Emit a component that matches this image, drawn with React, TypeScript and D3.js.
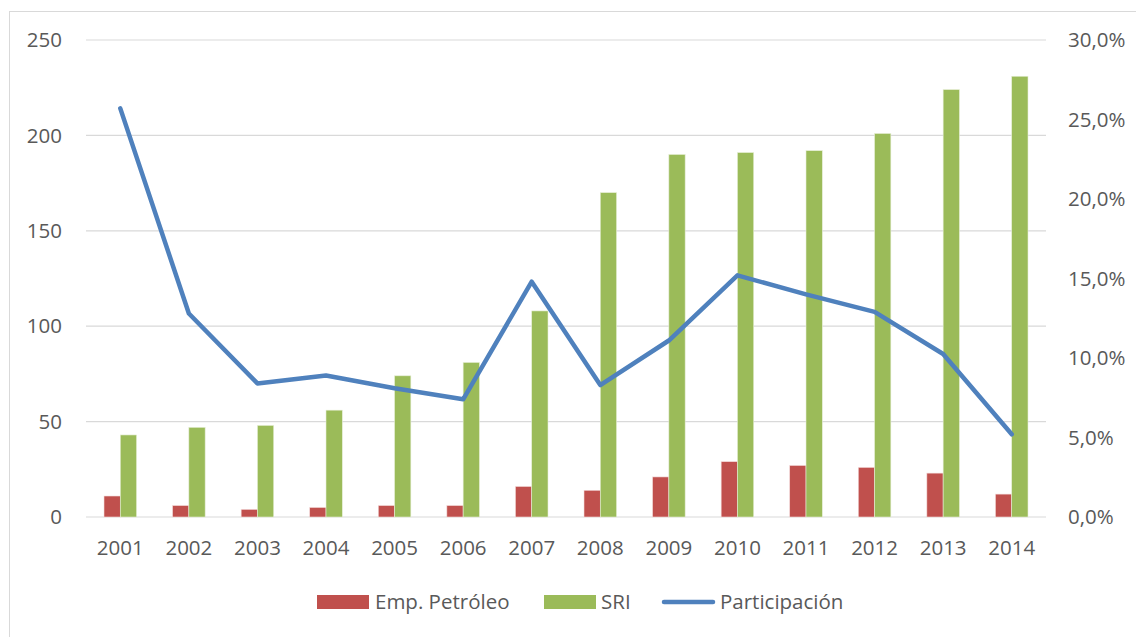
import React from "react";
import * as d3 from "d3";

const years = ["2001","2002","2003","2004","2005","2006","2007","2008","2009","2010","2011","2012","2013","2014"];
const empPetroleo = [11, 6, 4, 5, 6, 6, 16, 14, 21, 29, 27, 26, 23, 12];
const sri = [43, 47, 48, 56, 74, 81, 108, 170, 190, 191, 192, 201, 224, 231];
const participacion = [0.257, 0.128, 0.084, 0.089, 0.081, 0.074, 0.148, 0.083, 0.111, 0.152, 0.14, 0.129, 0.1025, 0.052];
const leftTicks = [0, 50, 100, 150, 200, 250];
const rightTicks = [0, 0.05, 0.1, 0.15, 0.2, 0.25, 0.3];

const W = 1136, H = 637;
const plot = { left: 86, right: 1046, top: 40, bottom: 517 };
const FONT = "'Open Sans', 'Noto Sans', sans-serif";
const TXT = "#595959";
const RED = "#C0504D", GREEN = "#9BBB59", BLUE = "#4F81BD";

export default function App() {
  const x = d3.scaleBand().domain(years).range([plot.left, plot.right]).paddingInner(0).paddingOuter(0);
  const yL = d3.scaleLinear().domain([0, 250]).range([plot.bottom, plot.top]);
  const yR = d3.scaleLinear().domain([0, 0.3]).range([plot.bottom, plot.top]);
  const bw = x.bandwidth() * 0.2375;
  const fmtPct = (v: number) => (v * 100).toFixed(1).replace(".", ",") + "%";
  const line = d3.line<number>()
    .x((_, i) => (x(years[i]) as number) + x.bandwidth() / 2)
    .y((d) => yR(d));

  return (
    <svg width={W} height={H} style={{ position: "absolute", left: 0, top: 0, background: "#fff" }} fontFamily={FONT}>
      <rect x={9.5} y={11.5} width={1140} height={640} fill="#fff" stroke="#D9D9D9" strokeWidth={1} />
      {leftTicks.map((t) => (
        <line key={"g" + t} x1={plot.left} x2={plot.right} y1={yL(t)} y2={yL(t)} stroke="#D9D9D9" strokeWidth={1.2} />
      ))}
      {years.map((yr, i) => {
        const cx = (x(yr) as number) + x.bandwidth() / 2;
        return (
          <g key={yr}>
            <rect x={cx - bw} y={yL(empPetroleo[i])} width={bw} height={yL(0) - yL(empPetroleo[i])} fill={RED} stroke="#f3dcdb" strokeWidth={0.6} />
            <rect x={cx} y={yL(sri[i])} width={bw} height={yL(0) - yL(sri[i])} fill={GREEN} stroke="#e6eed6" strokeWidth={0.6} />
          </g>
        );
      })}
      <path d={line(participacion) || ""} fill="none" stroke={BLUE} strokeWidth={4.5} strokeLinejoin="round" strokeLinecap="round" />
      {leftTicks.map((t) => (
        <text key={"l" + t} x={62} y={yL(t)} dy="0.35em" textAnchor="end" fontSize={20.5} fill={TXT}>{t}</text>
      ))}
      {rightTicks.map((t) => (
        <text key={"r" + t} x={1068} y={yR(t)} dy="0.35em" textAnchor="start" fontSize={20.5} fill={TXT}>{fmtPct(t)}</text>
      ))}
      {years.map((yr) => (
        <text key={"x" + yr} x={(x(yr) as number) + x.bandwidth() / 2} y={548} dy="0.35em" textAnchor="middle" fontSize={20.5} fill={TXT}>{yr}</text>
      ))}
      <g>
        <rect x={317} y={595} width={52} height={14} fill={RED} />
        <text x={375} y={602} dy="0.35em" fontSize={20.5} fill={TXT}>Emp. Petróleo</text>
        <rect x={544} y={595} width={52} height={14} fill={GREEN} />
        <text x={601} y={602} dy="0.35em" fontSize={20.5} fill={TXT}>SRI</text>
        <line x1={664} x2={713} y1={602} y2={602} stroke={BLUE} strokeWidth={4.5} strokeLinecap="round" />
        <text x={720} y={602} dy="0.35em" fontSize={20.5} fill={TXT}>Participación</text>
      </g>
    </svg>
  );
}
